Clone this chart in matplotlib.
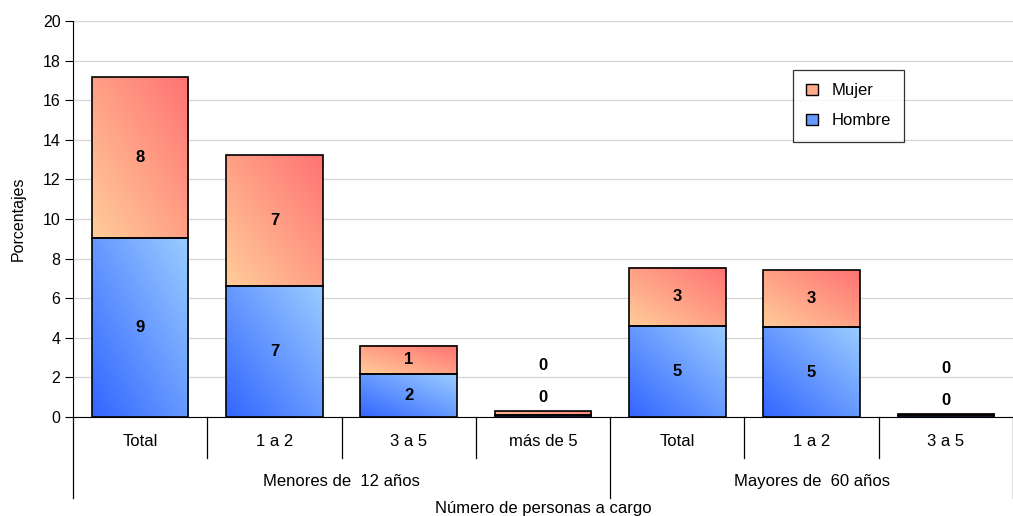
import numpy as np
import matplotlib
matplotlib.use("Agg")
import matplotlib.pyplot as plt
from matplotlib.colors import LinearSegmentedColormap
from matplotlib.patches import Patch

plt.rcParams['font.family'] = ['Liberation Sans', 'DejaVu Sans']

categories = ["Total", "1 a 2", "3 a 5", "más de 5", "Total", "1 a 2", "3 a 5"]
groups = ["Menores de  12 años", "Mayores de  60 años"]
group_sizes = [4, 3]
hombre = [9.04, 6.62, 2.17, 0.12, 4.60, 4.53, 0.08]
mujer = [8.13, 6.61, 1.42, 0.18, 2.93, 2.87, 0.07]

cmap_h = LinearSegmentedColormap.from_list("h", ["#3366ff", "#99ccff"])
cmap_m = LinearSegmentedColormap.from_list("m", ["#ffcc99", "#ff7373"])

FS = 12

fig = plt.figure(figsize=(10.13, 5.16), dpi=100)
ax = fig.add_axes([73 / 1013, 99 / 516, 940 / 1013, 396 / 516])

x = np.arange(len(categories))
width = 0.72

# diagonal gradient (bottom-left -> top-right)
u = np.linspace(0, 1, 60)
uu, vv = np.meshgrid(u, u)
grad = (uu + vv) / 2


def gradient_bar(xc, bottom, height, cmap):
    x0, x1 = xc - width / 2, xc + width / 2
    ax.imshow(grad, cmap=cmap, extent=(x0, x1, bottom, bottom + height),
              origin='lower', aspect='auto', zorder=2, interpolation='bilinear')
    ax.bar(xc, height, width, bottom=bottom, facecolor='none',
           edgecolor='black', linewidth=1.2, zorder=3)


for i in range(len(categories)):
    gradient_bar(x[i], 0, hombre[i], cmap_h)
    gradient_bar(x[i], hombre[i], mujer[i], cmap_m)
    total = hombre[i] + mujer[i]
    if total < 1:
        yh, ym = total + 0.7, total + 2.3
    else:
        yh, ym = hombre[i] / 2, hombre[i] + mujer[i] / 2
    ax.text(x[i], yh, f"{hombre[i]:.0f}", ha='center', va='center',
            fontsize=FS, fontweight='bold', zorder=4)
    ax.text(x[i], ym, f"{mujer[i]:.0f}", ha='center', va='center',
            fontsize=FS, fontweight='bold', zorder=4)

ax.set_xlim(-0.5, len(categories) - 0.5)
ax.set_ylim(0, 20)
ax.set_yticks(np.arange(0, 21, 2))
ax.tick_params(axis='y', labelsize=11.5, length=6, direction='out', pad=3)
ax.yaxis.grid(True, color='#d4d4d4', linewidth=0.9)
ax.set_axisbelow(True)
ax.set_ylabel("Porcentajes", fontsize=11.5, labelpad=12)

for s in ['top', 'right']:
    ax.spines[s].set_visible(False)
ax.spines['bottom'].set_color('black')
ax.spines['left'].set_color('black')

# multi-level category axis
ax.set_xticks([])
tr = ax.get_xaxis_transform()
for i, c in enumerate(categories):
    ax.text(x[i], -0.063, c, transform=tr, ha='center', va='center', fontsize=FS)
bounds = np.arange(len(categories) + 1) - 0.5
group_edges = np.concatenate([[0], np.cumsum(group_sizes)]) - 0.5
for b in bounds:
    if b in group_edges:
        ax.plot([b, b], [0, -0.205], transform=tr, color='black', lw=0.9, clip_on=False)
    else:
        ax.plot([b, b], [0, -0.104], transform=tr, color='black', lw=0.9, clip_on=False)
for g, a, b in zip(groups, group_edges[:-1], group_edges[1:]):
    ax.text((a + b) / 2, -0.163, g, transform=tr, ha='center', va='center', fontsize=FS)
ax.text(0.5, -0.232, "Número de personas a cargo", transform=ax.transAxes,
        ha='center', va='center', fontsize=FS)

handles = [Patch(facecolor='#ffaa88', edgecolor='black', label='Mujer'),
           Patch(facecolor='#6699ff', edgecolor='black', label='Hombre')]
leg = ax.legend(handles=handles, loc='upper left', bbox_to_anchor=(0.766, 0.876),
                fontsize=FS, frameon=True, fancybox=False, edgecolor='black',
                handlelength=0.7, handleheight=0.7, labelspacing=0.9,
                borderpad=0.8, handletextpad=0.8, borderaxespad=0)
leg.get_frame().set_linewidth(0.9)
# widen the frame a bit to the right, as in the original box
fig.canvas.draw()
bb = leg.get_frame().get_bbox()
leg.get_frame().set_width(bb.width + 12)

fig.savefig("out.png", dpi=100)
